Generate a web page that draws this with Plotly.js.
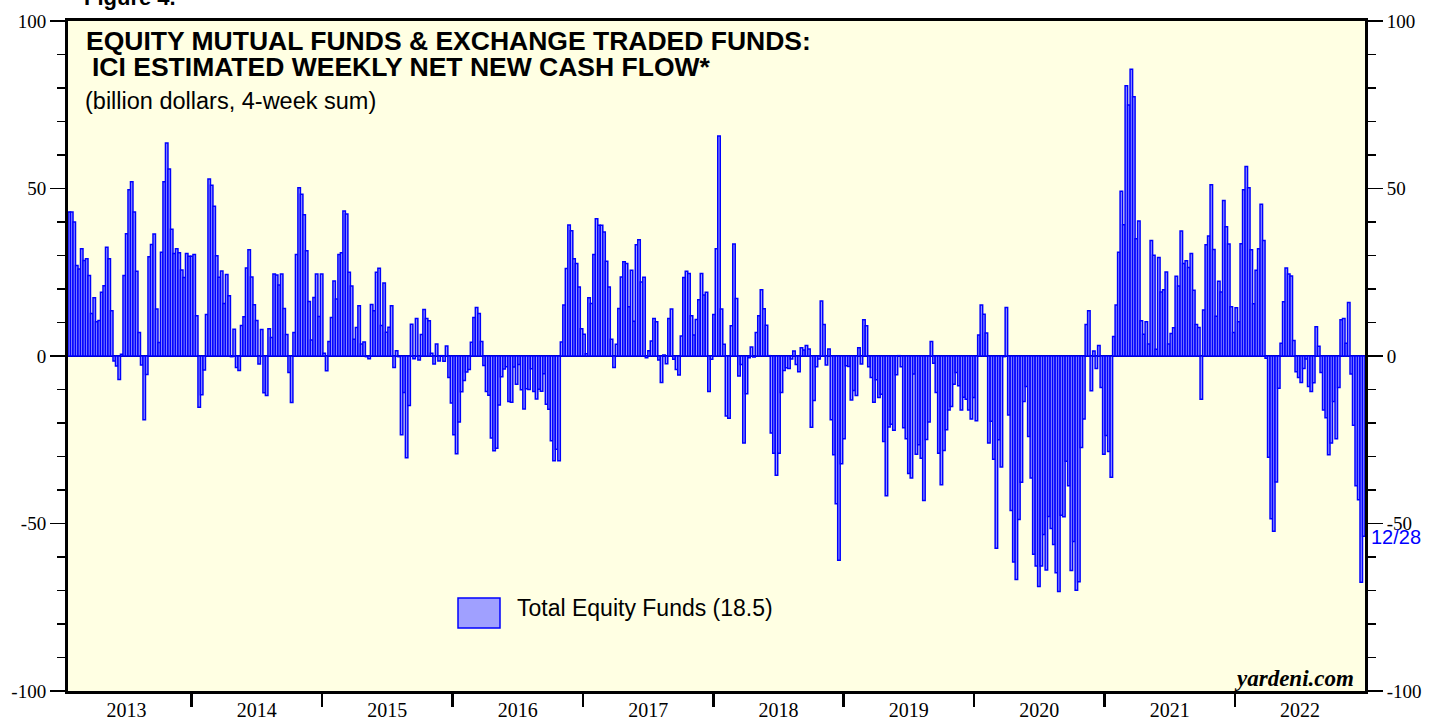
<!DOCTYPE html>
<html>
<head>
<meta charset="utf-8">
<script src="https://cdn.plot.ly/plotly-3.0.1.min.js"></script>
<style>html,body{margin:0;padding:0;background:#fff;}#chart{width:1430px;height:721px;}</style>
</head>
<body>
<div id="chart"></div>
<script>
// Weekly 4-week-sum net new cash flow (billion $), by calendar year
const firstWeek = '2013-01-23';
const lastLabel = '12/28';
const flows2013 = [43, 43, 40, 27, 26, 32, 28.5, 29, 24, 12.7, 17.4, 10.2, 10.6, 19, 21, 32.5, 29, 13.5, -1.5, -3, -7, 0.5, 24, 36.5, 49.6, 52, 43, 25.3, 7, -2.7, -19, -5.5, 29.6, 33.3, 36.4, 14, 4, 31, 52, 63.6, 55.8, 37.8, 30.6, 32, 30.8, 25.7, 23.4, 30.6, 29.8];
const flows2014 = [29.8, 30.3, 12, -15.3, -11.6, -4.2, 12.4, 52.8, 51, 44.7, 29.9, 23.5, 25.4, 15.7, 24.3, 18, -0.2, 8, -3.4, -4.3, 9.1, 11.7, 26.3, 31.7, 23.6, 15.3, 10.6, -2.4, 7.9, -11, -11.8, 8.1, 5.5, 24.5, 24.2, 21.2, 24.5, 14.2, 6.4, -4.9, -13.9, 7, 30.3, 50.2, 48.3, 42.2, 31.4, 16.3, 4.8, 17.5, 24.5, 11.8, 24.5];
const flows2015 = [0.8, -4.4, 4.3, 11.5, 22.4, 17, 30.3, 30.8, 43.3, 42.4, 25, 20.9, 5, 8.5, 15, 3.6, 4.2, -0.2, -0.8, 15.4, 13.5, 25, 26.2, 9.1, 21.8, 7.1, 8.6, 15, -3.4, 1.6, -0.2, -23.5, -10.9, -30.4, -14.8, 9.5, -0.8, 11.2, -1.2, 6.4, 13.9, 11.2, 10.5, 0.8, -2.4, 3.6, -1.5, 0.1, -1.6, 3, -6.4, -14];
const flows2016 = [-23.5, -29.2, -19.7, -10.7, -7.3, -4.8, -4, 4.1, 11.5, 14.5, 12.7, 4.3, -2.8, -10.6, -11.7, -24.5, -28.3, -27.5, -14.6, -6.2, -3.9, -3.2, -13.6, -13.8, -3.3, -8.4, -2.5, -10.1, -15.8, -9.8, -10, -3.8, -10.6, -12.8, -9.9, -10.5, -5.3, -14.4, -15.9, -25.3, -31.3, -27.8, -31.3, 4.2, 15.2, 26.1, 39.1, 37.4, 29, 27.6, 20.6, 8.1];
const flows2017 = [6.5, 0.7, 17.4, 15.7, 30.3, 41, 39, 39, 37, 28.3, 20.6, 5, -3.4, 3.5, 14.2, 23.6, 28.1, 27.6, 14.7, 25.6, 10.4, 33.2, 34.7, 22.1, 23.5, -0.5, 1.6, 4.5, 11.2, 10.2, -1.2, -7.9, 0.3, -2.3, 11.2, 14, -1, -4, -5.7, 6, 23.4, 25.3, 24.6, 12, 6.3, 10.9, 16.8, 24.6, 18.2, 19, -10.6, -1];
const flows2018 = [12.4, 32, 65.7, 14, 3.5, -17.9, -18.6, 9, 33.4, 17.2, -6, -2.5, -26, -11.3, -0.5, 2.7, -0.3, 7, 12, 19.8, 14.1, 9.2, 0.1, -23, -29, -35.6, -29, -10.9, -4.3, -3.5, -3.7, -0.9, 1.5, -2.5, -4.7, 2.5, 1.8, 3.1, 2.1, -21.3, -13.3, -3.2, -0.9, 16.4, 9.4, -2.7, 2.1, -19, -29.5, -44.1, -61, -32.2];
const flows2019 = [-24.7, -2.9, -3.1, -13.1, -10.3, -11.8, 2.5, -2.4, 10.8, 9, -3.2, -6.4, -13.8, -7.1, -12.4, -11.4, -25.5, -41.7, -21.2, -20.4, -22.2, -5.6, 0.1, -3.2, -21.4, -24.7, -35.1, -36.4, -5.4, -29.3, -26.5, -30.5, -43.1, -24.9, -19.7, 4.3, -2.2, -10.9, -29, -38.4, -28.2, -22, -16.1, -15.1, -8.4, -4.9, -8.9, -16.1, -12.3, -12.9, -16.1, -18.8];
const flows2020 = [-12.4, -19.3, 6.3, 15.2, 12.5, 6.9, -26, -19.5, -30.8, -57.4, -25, -33.1, -0.2, 14.5, -17.6, -46.1, -61.5, -66.7, -48.8, -37.7, -13.6, -9.1, -24, -36.4, -59.2, -62.7, -68.8, -62.7, -53.3, -63.9, -47.9, -51.5, -56.3, -64.7, -70.3, -47.5, -48, -31.4, -38.7, -64, -55.4, -69.9, -67.4, -27.3, -18.8, 9.4, 13.5, -10.4, 1.5, -3.7, 3.1, -9.4, -29.3];
const flows2021 = [-23.7, -28.5, -36.2, 5.8, 15.2, 31, 49.2, 39.2, 80.7, 74.9, 85.6, 77.4, 35, 40.3, 10.5, 6.5, 10.2, 3.6, 34.5, 30.1, 2, 29.4, 19.1, 19.8, 25.1, 3.6, 6.7, 8.4, 23.8, 20.9, 37.3, 27.6, 28.4, 26.4, 30.6, 19.6, 9.4, 8.5, -12.9, 13.7, 33.2, 35.8, 51.1, 31.8, 11.9, 22.3, 19.1, 46.4, 38.6, 33.4, 14.7, 7];
const flows2022 = [14.4, 10.2, 33.5, 49.6, 56.6, 50.2, 31.7, 15.6, 25.6, 32, 45.3, 34.5, -0.7, -30.2, -48.6, -52.3, -37.6, -9.6, 3.8, 16.2, 26.3, 24.5, 23.9, 4.6, -4.7, -6.4, -7.9, -3.7, -0.9, -9.1, -10.6, -8, 8.7, 2.9, -4.9, -16.1, -18.4, -29.5, -26, -13.6, -24.7, -9.4, 10.8, 11.2, 3.8, 16, -5.4, -20.7, -38.7, -42.9, -67.5, -53.8];

const seriesName = 'Total Equity Funds (18.5)';
const titleLine1 = 'EQUITY MUTUAL FUNDS & EXCHANGE TRADED FUNDS:';
const titleLine2 = 'ICI ESTIMATED WEEKLY NET NEW CASH FLOW*';
const subtitle = '(billion dollars, 4-week sum)';
const yTicks = [-100, -50, 0, 50, 100];

const values = [].concat(flows2013, flows2014, flows2015, flows2016, flows2017,
  flows2018, flows2019, flows2020, flows2021, flows2022);
const start = Date.parse(firstWeek + 'T00:00:00Z');
const dates = values.map((v, i) => new Date(start + i * 7 * 86400000).toISOString().slice(0, 10));

const W = 1430, H = 721;
const M = {l: 68, r: 65, t: 21, b: 30};
const PW = W - M.l - M.r, PH = H - M.t - M.b;
const px = x => (x - M.l) / PW;
const py = y => (H - M.b - y) / PH;

const blue = 'rgb(0,0,255)';
const fillBlue = 'rgb(160,160,255)';
const serif = 'Liberation Serif, Times New Roman, serif';
const sans = 'Liberation Sans, Arial, sans-serif';
const xRange = ['2013-01-19 12:00', '2022-12-31 12:00'];

const traces = [
  {type: 'bar', x: dates, y: values, name: seriesName,
   marker: {color: fillBlue, line: {color: blue, width: 1.5}},
   showlegend: false, hoverinfo: 'x+y'},
  {type: 'scatter', x: [], y: [], xaxis: 'x2', yaxis: 'y2', showlegend: false, hoverinfo: 'skip'}
];

const yCommon = {
  range: [-100, 100], tickvals: yTicks, ticktext: yTicks.map(String),
  ticks: 'outside', ticklen: 15, tickwidth: 1.5, tickcolor: '#000',
  minor: {dtick: 10, ticks: 'outside', ticklen: 8, tickwidth: 1.5, tickcolor: '#000', showgrid: false},
  showgrid: false, showline: true, linecolor: '#000', linewidth: 3,
  tickfont: {family: serif, size: 19, color: '#000'}, fixedrange: true
};

const layout = {
  width: W, height: H, margin: M,
  paper_bgcolor: '#ffffff', plot_bgcolor: 'rgb(255,255,227)',
  bargap: 0,
  xaxis: {
    type: 'date', range: xRange,
    tick0: '2013-01-01', dtick: 'M12', showticklabels: false,
    ticks: 'outside', ticklen: 13, tickwidth: 2.5, tickcolor: '#000',
    showline: true, linecolor: '#000', linewidth: 3, mirror: true,
    showgrid: false, zeroline: false, fixedrange: true
  },
  xaxis2: {
    type: 'date', range: xRange, overlaying: 'x', anchor: 'y', side: 'bottom',
    tick0: '2013-01-01', dtick: 'M12', tickformat: '%Y', ticklabelmode: 'period',
    ticks: '', showline: false, showgrid: false, zeroline: false, ticklabelstandoff: 5,
    tickfont: {family: serif, size: 20, color: '#000'}, fixedrange: true
  },
  yaxis: Object.assign({}, yCommon, {side: 'left', zeroline: true, zerolinecolor: '#000', zerolinewidth: 2}),
  yaxis2: Object.assign({}, yCommon, {side: 'right', overlaying: 'y', anchor: 'x', zeroline: false}),
  shapes: [
    {type: 'rect', xref: 'paper', yref: 'paper', x0: px(458), x1: px(500), y0: py(628), y1: py(598),
     fillcolor: fillBlue, line: {color: blue, width: 1.5}}
  ],
  annotations: [
    {xref: 'paper', yref: 'paper', x: px(82), y: py(-3), xanchor: 'left', yanchor: 'middle',
     text: '<b>Figure 4.</b>', showarrow: false, font: {family: sans, size: 22, color: '#000'}},
    {xref: 'paper', yref: 'paper', x: px(84), y: py(41), xanchor: 'left', yanchor: 'middle',
     text: '<b>' + titleLine1 + '</b>', showarrow: false, font: {family: sans, size: 26.5, color: '#000'}},
    {xref: 'paper', yref: 'paper', x: px(90), y: py(67), xanchor: 'left', yanchor: 'middle',
     text: '<b>' + titleLine2 + '</b>', showarrow: false, font: {family: sans, size: 26.5, color: '#000'}},
    {xref: 'paper', yref: 'paper', x: px(83), y: py(101), xanchor: 'left', yanchor: 'middle',
     text: subtitle, showarrow: false, font: {family: sans, size: 23.5, color: '#000'}},
    {xref: 'paper', yref: 'paper', x: px(515), y: py(608), xanchor: 'left', yanchor: 'middle',
     text: seriesName, showarrow: false, font: {family: sans, size: 23, color: '#000'}},
    {xref: 'paper', yref: 'paper', x: px(1356), y: py(678), xanchor: 'right', yanchor: 'middle',
     text: '<b><i>yardeni.com</i></b>', showarrow: false, font: {family: serif, size: 23, color: '#000'}},
    {xref: 'paper', yref: 'paper', x: px(1369), y: py(537), xanchor: 'left', yanchor: 'middle',
     text: lastLabel, showarrow: false, font: {family: sans, size: 20, color: blue}}
  ]
};

Plotly.newPlot('chart', traces, layout, {displayModeBar: false, staticPlot: true});
</script>
</body>
</html>
